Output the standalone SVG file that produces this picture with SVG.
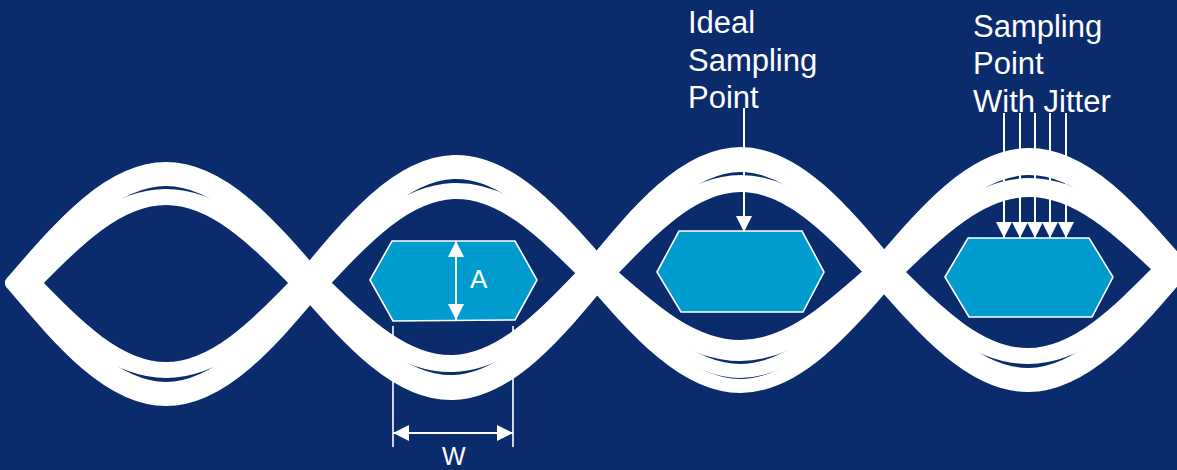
<svg xmlns="http://www.w3.org/2000/svg" width="1177" height="470" viewBox="0 0 1177 470">
<style>
.bg{fill:#0A2B6C}
.tr{fill:none;stroke:#FFFFFF;stroke-width:14;stroke-linecap:round}
.hex{fill:#009CCF;stroke:#FFFFFF;stroke-width:1.6}
.ln{fill:none;stroke:#FFFFFF;stroke-width:2}
.ext{fill:none;stroke:#FFFFFF;stroke-width:1.6}
.lbl{font-family:"Liberation Sans",Arial,sans-serif;fill:#FFFFFF}
</style>
<defs>
<path id="arc" d="M0,0 C0.163,-0.512 0.318,-1 0.5,-1 S0.837,-0.512 1,0" class="tr" vector-effect="non-scaling-stroke"/>
<marker id="head" viewBox="0 0 16 16" refX="16" refY="8" markerWidth="16" markerHeight="16" markerUnits="userSpaceOnUse" orient="auto-start-reverse">
<path d="M0,0 L16,8 L0,16 Z" fill="#FFFFFF"/>
</marker>
</defs>
<rect class="bg" x="0" y="0" width="1177" height="470"/>
<g id="eye-traces">
<!-- eye 1 -->
<use href="#arc" transform="matrix(308,0,0,114,12,283)"/>
<use href="#arc" transform="matrix(288,0,0,104,22,283)"/>
<use href="#arc" transform="matrix(288,0,0,87,22,283)"/>
<use href="#arc" transform="matrix(264,0,0,85,34,283)"/>
<use href="#arc" transform="matrix(308,0,0,-116,12,283)"/>
<use href="#arc" transform="matrix(288,0,0,-106,22,283)"/>
<use href="#arc" transform="matrix(288,0,0,-88,22,283)"/>
<use href="#arc" transform="matrix(264,0,0,-86,34,283)"/>
<!-- eye 2 -->
<use href="#arc" transform="matrix(307,-10,0,116,300,283)"/>
<use href="#arc" transform="matrix(287,-10,0,106,310,283)"/>
<use href="#arc" transform="matrix(287,-10,0,88,310,283)"/>
<use href="#arc" transform="matrix(263,-10,0,86,322,283)"/>
<use href="#arc" transform="matrix(307,-10,0,-115,300,283)"/>
<use href="#arc" transform="matrix(287,-10,0,-104,310,283)"/>
<use href="#arc" transform="matrix(287,-10,0,-87,310,283)"/>
<use href="#arc" transform="matrix(263,-10,0,-84,322,283)"/>
<!-- eye 3 -->
<use href="#arc" transform="matrix(307,-1,0,118.5,587,273)"/>
<use href="#arc" transform="matrix(287,-1,0,107.5,597,273)"/>
<use href="#arc" transform="matrix(287,-1,0,90.5,597,273)"/>
<use href="#arc" transform="matrix(263,-1,0,87.5,609,273)"/>
<use href="#arc" transform="matrix(307,-1,0,-113.5,587,273)"/>
<use href="#arc" transform="matrix(287,-1,0,-98.5,597,273)"/>
<use href="#arc" transform="matrix(287,-1,0,-81.5,597,273)"/>
<use href="#arc" transform="matrix(263,-1,0,-74.5,609,273)"/>
<!-- eye 4 -->
<use href="#arc" transform="matrix(309,-3,0,115.5,874,272)"/>
<use href="#arc" transform="matrix(289,-3,0,102.5,884,272)"/>
<use href="#arc" transform="matrix(289,-3,0,85.5,884,272)"/>
<use href="#arc" transform="matrix(265,-3,0,80.5,896,272)"/>
<use href="#arc" transform="matrix(309,-3,0,-114.5,874,272)"/>
<use href="#arc" transform="matrix(289,-3,0,-104.5,884,272)"/>
<use href="#arc" transform="matrix(289,-3,0,-86.5,884,272)"/>
<use href="#arc" transform="matrix(265,-3,0,-84.5,896,272)"/>
</g>
<g id="eye-mask-1">
<polygon class="hex" points="370,280 392,241 515,241 537,280 515,320 393,321"/>
<text class="lbl" x="470" y="288" font-size="26">A</text>
</g>
<g id="eye-mask-2">
<polygon class="hex" points="657,272 679,231 802,231 824,272 803,312 681,312"/>
</g>
<g id="eye-mask-3">
<polygon class="hex" points="945,277 968,238 1089,238 1113,277 1092,317 969,317"/>
</g>
<g id="label-ideal">
<text class="lbl" font-size="31"><tspan x="688" y="33">Ideal</tspan><tspan x="688" y="70.5">Sampling</tspan><tspan x="688" y="108">Point</tspan></text>
</g>
<g id="label-jitter">
<text class="lbl" font-size="31"><tspan x="973" y="37">Sampling</tspan><tspan x="973" y="74">Point</tspan><tspan x="973" y="112">With Jitter</tspan></text>
</g>
<g id="label-w">
<text class="lbl" x="442" y="465" font-size="25">W</text>
</g>
<g id="connectors">
<line class="ln" x1="456" y1="241" x2="456" y2="320" marker-start="url(#head)" marker-end="url(#head)"/>
<line class="ln" x1="744" y1="108" x2="744" y2="232" marker-end="url(#head)"/>
<line class="ln" x1="1004" y1="113" x2="1004" y2="238" marker-end="url(#head)"/>
<line class="ln" x1="1020" y1="113" x2="1020" y2="238" marker-end="url(#head)"/>
<line class="ln" x1="1035" y1="113" x2="1035" y2="238" marker-end="url(#head)"/>
<line class="ln" x1="1050" y1="113" x2="1050" y2="238" marker-end="url(#head)"/>
<line class="ln" x1="1066" y1="113" x2="1066" y2="238" marker-end="url(#head)"/>
<line class="ext" x1="393" y1="326" x2="393" y2="447"/>
<line class="ext" x1="513" y1="326" x2="513" y2="447"/>
<line class="ln" x1="393" y1="433" x2="513" y2="433" stroke-width="2.5" marker-start="url(#head)" marker-end="url(#head)"/>
</g>
</svg>
